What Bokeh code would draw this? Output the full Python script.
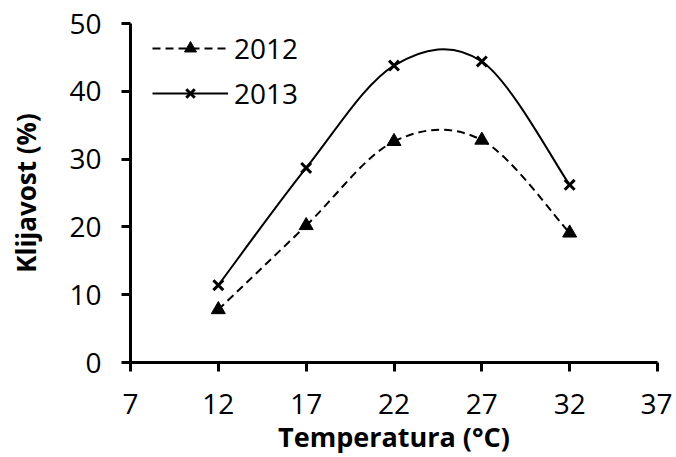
import numpy as np
from bokeh.plotting import figure
from bokeh.models import FixedTicker, Legend, LegendItem, Range1d
from bokeh.embed import file_html
from bokeh.resources import INLINE

# ---- data ----
temps = [12, 17, 22, 27, 32]
y2012 = [7.8, 20.2, 32.6, 32.8, 19.1]
y2013 = [11.4, 28.7, 43.8, 44.4, 26.2]
x_ticks = [7, 12, 17, 22, 27, 32, 37]
y_ticks = [0, 10, 20, 30, 40, 50]
series_labels = ["2012", "2013"]
x_title = "Temperatura (°C)"
y_title = "Klijavost (%)"

FONT = "Open Sans"


def smooth_segments(xs, ys):
    """Catmull-Rom style Bezier control points (like Excel smoothed lines)."""
    n = len(xs)
    d = dict(x0=[], y0=[], x1=[], y1=[], cx0=[], cy0=[], cx1=[], cy1=[])
    for i in range(n - 1):
        pm = max(i - 1, 0)
        pp = min(i + 2, n - 1)
        d["x0"].append(xs[i]); d["y0"].append(ys[i])
        d["x1"].append(xs[i + 1]); d["y1"].append(ys[i + 1])
        d["cx0"].append(xs[i] + (xs[i + 1] - xs[pm]) / 6.0)
        d["cy0"].append(ys[i] + (ys[i + 1] - ys[pm]) / 6.0)
        d["cx1"].append(xs[i + 1] - (xs[pp] - xs[i]) / 6.0)
        d["cy1"].append(ys[i + 1] - (ys[pp] - ys[i]) / 6.0)
    return d


p = figure(width=672, height=457, output_backend="svg", toolbar_location=None,
           x_range=Range1d(7, 37), y_range=Range1d(0, 50),
           min_border_left=130, min_border_right=15, min_border_top=23,
           min_border_bottom=95)
p.outline_line_color = None
p.xgrid.visible = False
p.ygrid.visible = False
p.background_fill_color = "white"
p.border_fill_color = "white"

s12 = smooth_segments(temps, y2012)
s13 = smooth_segments(temps, y2013)

b12 = p.bezier(x0="x0", y0="y0", x1="x1", y1="y1", cx0="cx0", cy0="cy0",
               cx1="cx1", cy1="cy1", source=s12, line_color="black",
               line_width=2, line_dash="8 5")
b13 = p.bezier(x0="x0", y0="y0", x1="x1", y1="y1", cx0="cx0", cy0="cy0",
               cx1="cx1", cy1="cy1", source=s13, line_color="black",
               line_width=2)

m12 = p.scatter(temps, y2012, marker="triangle", size=14, fill_color="black",
                line_color="black")
m13 = p.scatter(temps, y2013, marker="x", size=14, line_color="black",
                line_width=3)

legend = Legend(items=[LegendItem(label=series_labels[0], renderers=[b12, m12]),
                       LegendItem(label=series_labels[1], renderers=[b13, m13])],
                location=(22, 250), glyph_width=76, glyph_height=30,
                label_standoff=6, spacing=7, padding=0, margin=0,
                border_line_color=None, background_fill_alpha=0,
                label_text_font=FONT, label_text_font_size="28px",
                label_text_color="black")
p.add_layout(legend)

for ax, ticks in ((p.xaxis[0], x_ticks), (p.yaxis[0], y_ticks)):
    ax.ticker = FixedTicker(ticks=ticks)
    ax.axis_line_width = 3
    ax.axis_line_color = "black"
    ax.major_tick_line_width = 3
    ax.major_tick_line_color = "black"
    ax.major_tick_in = 0
    ax.major_tick_out = 9
    ax.minor_tick_line_color = None
    ax.major_label_text_font = FONT
    ax.major_label_text_font_size = "28px"
    ax.major_label_text_color = "black"
    ax.axis_label_text_font = FONT
    ax.axis_label_text_font_size = "26px"
    ax.axis_label_text_font_style = "bold"
    ax.axis_label_text_color = "black"

p.xaxis.axis_label = x_title
p.xaxis.axis_label_text_font_size = "27px"
p.yaxis.axis_label = y_title
p.xaxis.major_label_standoff = 22
p.xaxis.axis_label_standoff = 1
p.yaxis.major_label_standoff = 20
p.yaxis.axis_label_standoff = 22

open("out.html", "w").write(file_html(p, INLINE))
